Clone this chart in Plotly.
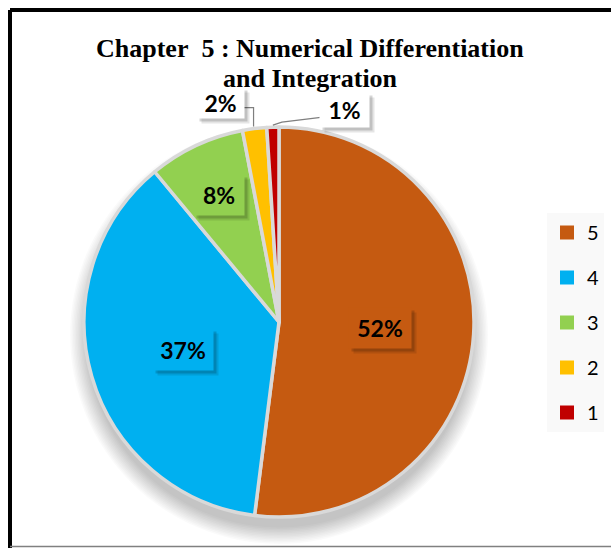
import math
import plotly.graph_objects as go

# Share of students per score level
levels = ["5", "4", "3", "2", "1"]
shares = [52, 37, 8, 2, 1]
colors = ["#C55A11", "#00B0F0", "#92D050", "#FFC000", "#C00000"]
title_lines = ["Chapter\u00a0 5 : Numerical Differentiation", "and Integration"]

W, H = 611, 548
CX, CY, R = 279, 322, 195  # pie centre and radius in pixels


def px(x):
    return x / W


def py(y):
    return 1 - y / H


fig = go.Figure()

fig.add_trace(go.Pie(
    labels=levels,
    values=shares,
    sort=False,
    direction="clockwise",
    rotation=0,
    marker=dict(colors=colors, line=dict(color="#D9D9D9", width=3.5)),
    textinfo="none",
    hoverinfo="label+percent",
    showlegend=False,
    domain=dict(x=[px(CX - R), px(CX + R)], y=[py(CY + R), py(CY - R)]),
))

# Legend entries, one group per level so they can be spaced apart
for lab, col in zip(levels, colors):
    fig.add_trace(go.Scatter(
        x=[None], y=[None], mode="markers", name=lab, legendgroup=lab,
        marker=dict(symbol="square", size=14, color=col, line=dict(width=0)),
        hoverinfo="skip",
    ))

# Mid-angle of each slice (degrees clockwise from 12 o'clock)
total = sum(shares)
mids = []
acc = 0
for v in shares:
    mids.append((acc + v / 2) / total * 360)
    acc += v


def polar(theta, r):
    t = math.radians(theta)
    return CX + r * math.sin(t), CY - r * math.cos(t)


annotations = []
shapes = []

# Soft drop shadow under the pie, offset downwards
for k in range(12):
    rr = R + 14 - k * 1.5
    shapes.append(dict(
        type="circle", xref="paper", yref="paper", layer="below",
        x0=px(CX - rr), x1=px(CX + rr), y0=py(CY + 13 + rr), y1=py(CY + 13 - rr),
        fillcolor="rgba(0,0,0,0.02)", line=dict(width=0),
    ))


def label_box(x, y, text, bg, w, h):
    for off, op in ((5, 0.10), (3, 0.16)):
        annotations.append(dict(
            x=px(x + off), y=py(y + off), xref="paper", yref="paper",
            xanchor="center", yanchor="middle",
            text=" ", showarrow=False, width=w, height=h,
            bgcolor=f"rgba(0,0,0,{op})", borderpad=0,
        ))
    annotations.append(dict(
        x=px(x), y=py(y), xref="paper", yref="paper",
        xanchor="center", yanchor="middle",
        text=f"<b>{text}</b>", showarrow=False, width=w, height=h,
        bgcolor=bg, borderpad=0,
        font=dict(family="Lato", size=23, color="#000000"),
    ))


# Labels placed inside the larger slices
inside_frac = {0: 0.52, 1: 0.51, 2: 0.72}
inside_size = {0: (62, 40), 1: (60, 41), 2: (50, 40)}
for i, f in inside_frac.items():
    x, y = polar(mids[i], R * f)
    w, h = inside_size[i]
    label_box(x, y, f"{shares[i]}%", colors[i], w, h)

# Callout labels for the two thin slices
tip2 = polar(mids[3], R)
box2 = (tip2[0] - 34, tip2[1] - 26)
label_box(box2[0], box2[1], f"{shares[3]}%", "#FFFFFF", 47, 30)
shapes.append(dict(
    type="path", xref="paper", yref="paper",
    path=(f"M {px(box2[0] + 21)} {py(tip2[1] - 21)} "
          f"L {px(tip2[0] - 1)} {py(tip2[1] - 21)} L {px(tip2[0] - 1)} {py(tip2[1] - 2)}"),
    line=dict(color="#7F7F7F", width=1.2),
))

tip1 = polar(mids[4], R)
box1 = (tip1[0] + 72, tip1[1] - 17)
label_box(box1[0], box1[1], f"{shares[4]}%", "#FFFFFF", 49, 34)
shapes.append(dict(
    type="path", xref="paper", yref="paper",
    path=(f"M {px(box1[0] - 22)} {py(tip1[1] - 10)} "
          f"L {px(tip1[0] + 9)} {py(tip1[1] - 5)} L {px(tip1[0])} {py(tip1[1] - 2)}"),
    line=dict(color="#7F7F7F", width=1.2),
))

# Two-line chart title, drawn above the callouts
for line, yc in zip(title_lines, (49, 78)):
    annotations.append(dict(
        x=px(310), y=py(yc), xref="paper", yref="paper",
        xanchor="center", yanchor="middle", showarrow=False,
        text=f"<b>{line}</b>",
        font=dict(family="Liberation Serif", size=26, color="#000000"),
    ))

# Chart frame
shapes += [
    dict(type="line", xref="paper", yref="paper", x0=px(10), x1=px(W + 5),
         y0=py(10), y1=py(10), line=dict(color="#000000", width=4)),
    dict(type="line", xref="paper", yref="paper", x0=px(10), x1=px(10),
         y0=py(10), y1=py(H + 5), line=dict(color="#000000", width=4)),
    dict(type="line", xref="paper", yref="paper", x0=px(10), x1=px(W + 5),
         y0=py(546.5), y1=py(546.5), line=dict(color="#808080", width=1.5)),
]

fig.update_layout(
    width=W, height=H,
    margin=dict(l=0, r=0, t=0, b=0),
    paper_bgcolor="#FFFFFF",
    plot_bgcolor="rgba(0,0,0,0)",
    xaxis=dict(visible=False),
    yaxis=dict(visible=False),
    legend=dict(
        x=px(547), xanchor="left", y=py(213), yanchor="top",
        bgcolor="#F9F9F9", borderwidth=0,
        font=dict(family="Lato", size=20, color="#000000"),
        tracegroupgap=16, itemclick=False, itemdoubleclick=False,
    ),
    annotations=annotations,
    shapes=shapes,
)

fig.write_html("out.html")
